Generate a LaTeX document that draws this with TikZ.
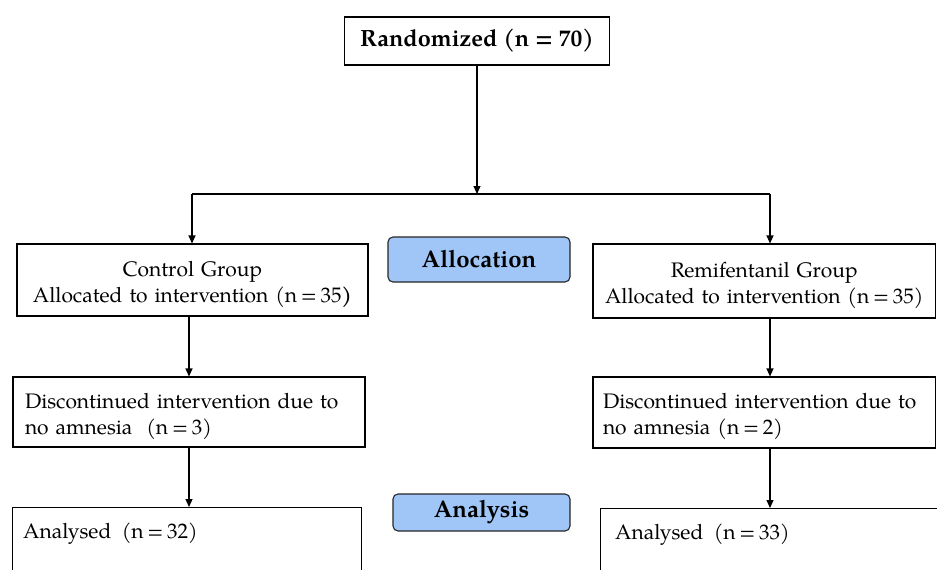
\documentclass[tikz,border=0pt]{standalone}
\usepackage{fontspec}
\setmainfont{TeX Gyre Pagella}
\usetikzlibrary{arrows.meta,calc}
\definecolor{phasecol}{RGB}{160,197,247}
\newcommand\eqs{\kern3.8pt=\kern3.8pt}
\newcommand\topstrut{\rule{0pt}{24pt}}
\newcommand\botstrut{\rule[-6pt]{0pt}{6pt}}
\begin{document}
\begin{tikzpicture}[x=1pt,y=-1pt,
  box/.style={draw, line width=1.1pt, inner sep=0pt, font=\fontsize{21}{26}\selectfont},
  phase/.style={draw=black!85, fill=phasecol, rounded corners=5pt, line width=1.1pt, inner sep=0pt, font=\fontsize{24}{26}\selectfont\bfseries},
  arr/.style={-{Triangle[length=8pt,width=7pt]}, line width=1.1pt},
  conn/.style={line width=1.1pt}]
\useasboundingbox (0,0) rectangle (937,570);
\fill[white] (0,0) rectangle (937,570);
\clip (0,0) rectangle (937,570);

\node[box, font=\fontsize{23.5}{26}\selectfont\bfseries, minimum width=265pt, minimum height=48pt] (rand) at (477,41) {Randomized (n = 70)};

\node[box, minimum width=351pt, minimum height=72pt, text width=345pt, align=center] (ctrl) at (192.5,280) {\topstrut Control Group\\Allocated to intervention (n\eqs 35\textbf{)}\botstrut};
\node[box, minimum width=342.5pt, minimum height=74pt, text width=336pt, align=center] (remi) at (764.25,281) {\topstrut Remifentanil Group\\Allocated to intervention (n\eqs 35)\botstrut};

\node[box, minimum width=352pt, minimum height=70pt, text width=328pt, align=left] (discL) at (189,412) {\topstrut Discontinued intervention due to\\no amnesia~ (n\eqs 3)\botstrut};
\node[box, minimum width=342.5pt, minimum height=71pt, text width=322.5pt, align=left] (discR) at (764.25,412.5) {\topstrut Discontinued intervention due to\\no amnesia (n\eqs 2)\botstrut};

\node[box, anchor=north west, minimum width=349pt, minimum height=100pt] (anaL) at (12,507) {};
\node[box, anchor=north west, minimum width=340pt, minimum height=100pt] (anaR) at (600,508) {};
\node[font=\fontsize{21}{26}\selectfont, anchor=base west, inner sep=0pt] (anaLt) at ($(anaL.north west)+(11,31)$) {Analysed~ (n\eqs 32)};
\node[font=\fontsize{21}{26}\selectfont, anchor=base west, inner sep=0pt] (anaRt) at ($(anaR.north west)+(15,31)$) {Analysed~ (n\eqs 33)};

\node[phase, minimum width=182pt, minimum height=45pt] (alloc) at (479,259.5) {Allocation};
\node[phase, minimum width=177pt, minimum height=37pt] (anal) at (481.5,512.5) {Analysis};

\coordinate (split) at (477,194);
\coordinate (L) at (192,194);
\coordinate (R) at (770,194);

\draw[arr] (rand) -- (split);
\draw[conn] (L) -- (R);
\draw[arr] (L) -- (L |- ctrl.north);
\draw[arr] (R) -- (R |- remi.north);
\draw[arr] (ctrl.south -| discL.north) -- (discL.north);
\draw[arr] (discL.south) -- (discL.south |- anaL.north);
\draw[arr] (R |- remi.south) -- (R |- discR.north);
\draw[arr] (R |- discR.south) -- (R |- anaR.north);
\end{tikzpicture}
\end{document}
